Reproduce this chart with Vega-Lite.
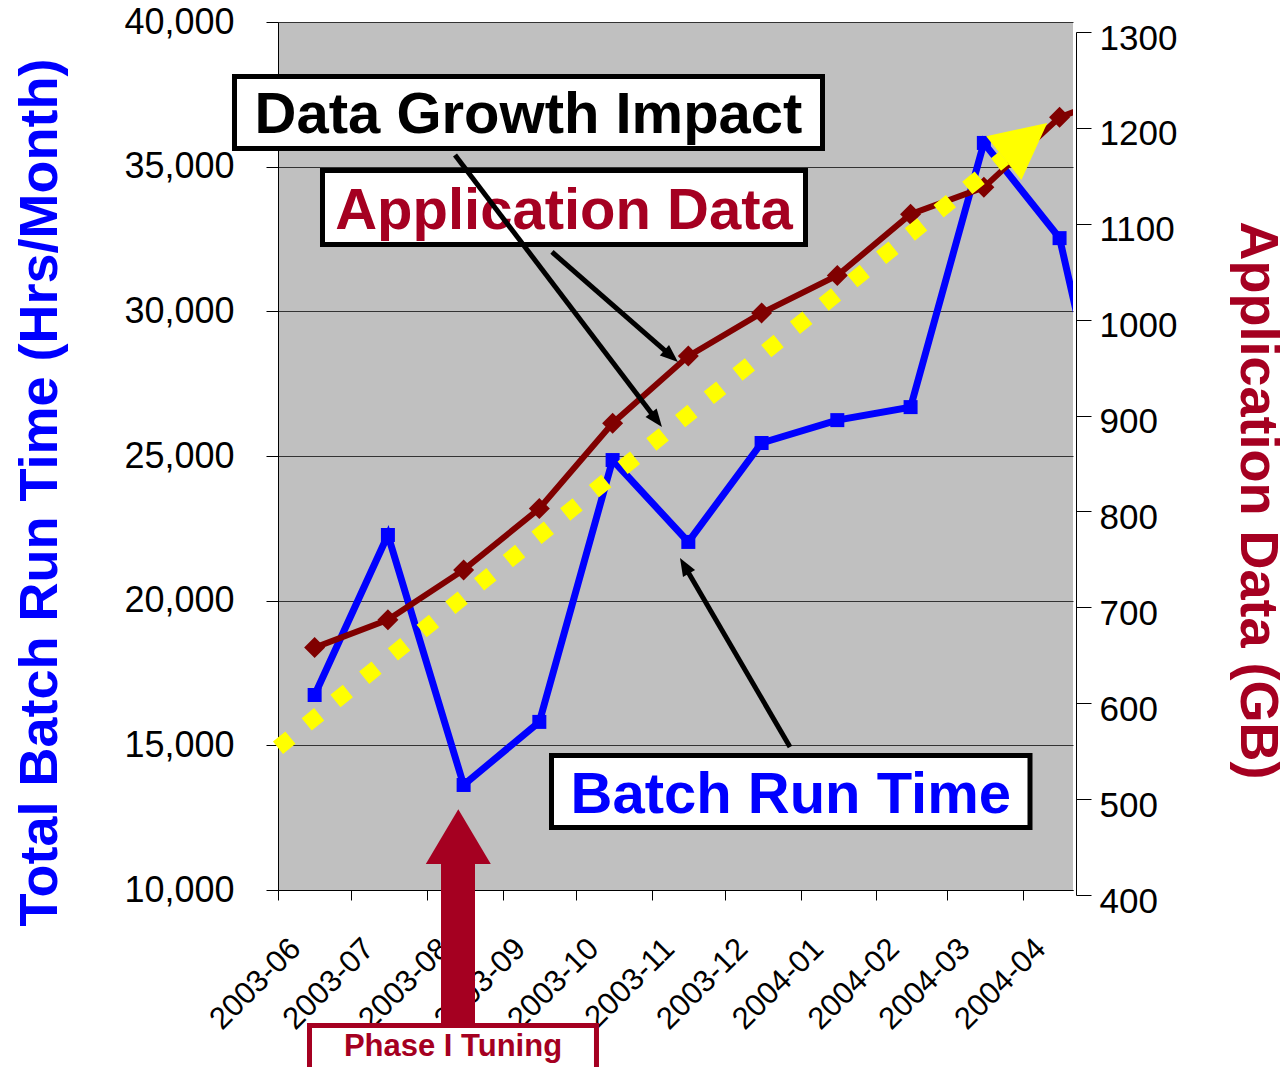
{
  "$schema": "https://vega.github.io/schema/vega-lite/v6.json",
  "width": 795,
  "height": 868,
  "autosize": {"type": "none"},
  "padding": {"left": 278, "top": 22, "right": 215, "bottom": 177},
  "background": "white",
  "config": {
    "view": {"fill": "#C0C0C0", "stroke": null},
    "font": "Liberation Sans",
    "axis": {"labelFont": "Liberation Sans", "titleFont": "Liberation Sans", "labelColor": "black", "domainColor": "black", "tickColor": "black", "domainWidth": 1, "tickWidth": 1}
  },
  "datasets": {
    "batch": [
      {"month": "2003-06-16", "hours": 16740},
      {"month": "2003-07-16", "hours": 22270},
      {"month": "2003-08-16", "hours": 13630},
      {"month": "2003-09-16", "hours": 15810},
      {"month": "2003-10-16", "hours": 24860},
      {"month": "2003-11-16", "hours": 22030},
      {"month": "2003-12-16", "hours": 25450},
      {"month": "2004-01-16", "hours": 26240},
      {"month": "2004-02-15", "hours": 26690},
      {"month": "2004-03-16", "hours": 35820},
      {"month": "2004-04-16", "hours": 32530},
      {"month": "2004-05-16", "hours": 21400}
    ],
    "appdata": [
      {"month": "2003-06-16", "gb": 658},
      {"month": "2003-07-16", "gb": 687},
      {"month": "2003-08-16", "gb": 739},
      {"month": "2003-09-16", "gb": 803},
      {"month": "2003-10-16", "gb": 892},
      {"month": "2003-11-16", "gb": 962},
      {"month": "2003-12-16", "gb": 1007},
      {"month": "2004-01-16", "gb": 1046},
      {"month": "2004-02-15", "gb": 1110},
      {"month": "2004-03-16", "gb": 1138},
      {"month": "2004-04-16", "gb": 1211},
      {"month": "2004-05-16", "gb": 1240}
    ],
    "trend": [
      {"t": "2003-06-01T00:00:00Z", "v": 14918},
      {"t": "2004-03-24T06:00:00Z", "v": 35299}
    ],
    "trendhead": [
      {"t": "2004-04-02T01:10:00Z", "v": 35904}
    ],
    "boxes": [
      {"box": "Data Growth Impact", "x1": "2003-05-14T04:30:00Z", "x2": "2004-01-09T22:30:00Z", "y1": 38116, "y2": 35628},
      {"box": "Application Data", "x1": "2003-06-19T05:15:00Z", "x2": "2004-01-02T23:30:00Z", "y1": 34867, "y2": 32310},
      {"box": "Batch Run Time", "x1": "2003-09-20T23:30:00Z", "x2": "2004-04-03T21:30:00Z", "y1": 14649, "y2": 12160}
    ],
    "pitbox": [
      {"box": "Phase I Tuning", "x1": "2003-06-13T21:30:00Z", "x2": "2003-10-09T09:30:00Z", "y1": 5317, "y2": 3433}
    ],
    "labels": [
      {"label": "Data Growth Impact", "t": "2003-09-11T13:30:00Z", "v": 36163},
      {"label": "Application Data", "t": "2003-09-26T02:20:00Z", "v": 32845},
      {"label": "Batch Run Time", "t": "2003-12-27T22:30:00Z", "v": 12661},
      {"label": "Phase I Tuning", "t": "2003-08-11T15:30:00Z", "v": 4263}
    ],
    "arrows": [
      {"id": "a1", "x1": "2003-08-12T11:15:00Z", "y1": 35403, "x2": "2003-11-02T05:30:00Z", "y2": 26331},
      {"id": "a2", "x1": "2003-09-21T04:20:00Z", "y1": 32051, "x2": "2003-11-08T02:10:00Z", "y2": 28522},
      {"id": "a3", "x1": "2003-12-27T15:05:00Z", "y1": 14942, "x2": "2003-11-15T01:10:00Z", "y2": 21115}
    ],
    "heads": [
      {"id": "a1", "t": "2003-11-05T05:15:00Z", "v": 26002},
      {"id": "a2", "t": "2003-11-11T18:30:00Z", "v": 28249},
      {"id": "a3", "t": "2003-11-12T14:10:00Z", "v": 21475}
    ],
    "phasearrow": [
      {"x1": "2003-08-06T17:45:00Z", "x2": "2003-08-20T15:50:00Z", "y1": 11037, "y2": 5334}
    ],
    "phasehead": [
      {"t": "2003-08-13T19:40:00Z", "v": 11844}
    ]
  },
  "layer": [
    {
      "data": {"name": "batch"},
      "mark": {"type": "line", "color": "#0000FF", "strokeWidth": 7, "clip": true},
      "encoding": {
        "x": {
          "field": "month", "type": "temporal",
          "scale": {"type": "utc", "domain": [{"year": 2003, "month": 6, "date": 1, "utc": true}, {"year": 2004, "month": 4, "date": 21, "hours": 12, "utc": true}]},
          "axis": {
            "orient": "bottom", "title": null,
            "values": [
              {"year": 2003, "month": 6, "date": 1, "utc": true},
              {"year": 2003, "month": 7, "date": 1, "utc": true},
              {"year": 2003, "month": 8, "date": 1, "utc": true},
              {"year": 2003, "month": 9, "date": 1, "utc": true},
              {"year": 2003, "month": 10, "date": 1, "utc": true},
              {"year": 2003, "month": 11, "date": 1, "utc": true},
              {"year": 2003, "month": 12, "date": 1, "utc": true},
              {"year": 2004, "month": 1, "date": 1, "utc": true},
              {"year": 2004, "month": 2, "date": 1, "utc": true},
              {"year": 2004, "month": 3, "date": 1, "utc": true},
              {"year": 2004, "month": 4, "date": 1, "utc": true}
            ],
            "format": "%Y-%m",
            "labelAngle": -45, "labelAlign": "right", "labelBaseline": "alphabetic",
            "labelFontSize": 31, "labelOffset": 24, "labelPadding": 50,
            "tickSize": 10, "grid": false,
            "labelOverlap": false, "labelFlush": false, "labelBound": false
          }
        },
        "y": {
          "field": "hours", "type": "quantitative",
          "scale": {"domain": [10000, 40000], "nice": false, "zero": false},
          "axis": {
            "orient": "left",
            "title": "Total Batch Run Time (Hrs/Month)",
            "values": [10000, 15000, 20000, 25000, 30000, 35000, 40000],
            "format": ",.0f",
            "grid": true, "gridColor": "#333333", "gridWidth": 1,
            "tickSize": 12, "labelFontSize": 36, "labelPadding": 32, "labelBaseline": "middle",
            "labelOverlap": false, "labelFlush": false,
            "titleFontSize": 54, "titleFontWeight": "bold", "titleColor": "#0000FF",
            "titleAngle": -90, "titleX": -222, "titleY": 470, "titleAlign": "center", "titleBaseline": "alphabetic"
          }
        }
      }
    },
    {
      "data": {"name": "batch"},
      "mark": {"type": "point", "shape": "square", "filled": true, "size": 196, "color": "#0000FF", "opacity": 1, "clip": true},
      "encoding": {
        "x": {"field": "month", "type": "temporal"},
        "y": {"field": "hours", "type": "quantitative", "scale": {"domain": [10000, 40000], "nice": false, "zero": false}, "axis": null}
      }
    },
    {
      "data": {"name": "appdata"},
      "mark": {"type": "line", "color": "#800000", "strokeWidth": 6, "clip": true},
      "encoding": {
        "x": {"field": "month", "type": "temporal"},
        "y": {
          "field": "gb", "type": "quantitative",
          "scale": {"domain": [400, 1300], "range": [873, 10], "nice": false, "zero": false},
          "axis": {
            "orient": "right",
            "title": "Application Data (GB)",
            "values": [400, 500, 600, 700, 800, 900, 1000, 1100, 1200, 1300],
            "format": "d",
            "grid": false, "offset": 3,
            "tickSize": 15, "labelFontSize": 35, "labelPadding": 8, "labelOffset": 6, "labelBaseline": "middle",
            "labelOverlap": false, "labelFlush": false,
            "titleFontSize": 54, "titleFontWeight": "bold", "titleColor": "#A50021",
            "titleAngle": 90, "titleX": 164, "titleY": 478, "titleAlign": "center", "titleBaseline": "alphabetic"
          }
        }
      }
    },
    {
      "data": {"name": "appdata"},
      "mark": {"type": "point", "shape": "diamond", "filled": true, "size": 441, "color": "#800000", "opacity": 1, "clip": true},
      "encoding": {
        "x": {"field": "month", "type": "temporal"},
        "y": {"field": "gb", "type": "quantitative", "scale": {"domain": [400, 1300], "range": [873, 10], "nice": false, "zero": false}, "axis": null}
      }
    },
    {
      "data": {"name": "trend"},
      "mark": {"type": "line", "color": "#FFFF00", "strokeWidth": 16, "strokeDash": [16, 21], "strokeCap": "butt"},
      "encoding": {
        "x": {"field": "t", "type": "temporal"},
        "y": {"field": "v", "type": "quantitative", "scale": {"domain": [10000, 40000], "nice": false, "zero": false}, "axis": null}
      }
    },
    {
      "data": {"name": "trendhead"},
      "mark": {"type": "point", "shape": "M0,-1L1,1L-1,1Z", "size": 3136, "angle": 51, "filled": true, "color": "#FFFF00", "opacity": 1, "strokeWidth": 0},
      "encoding": {
        "x": {"field": "t", "type": "temporal"},
        "y": {"field": "v", "type": "quantitative", "scale": {"domain": [10000, 40000], "nice": false, "zero": false}, "axis": null}
      }
    },
    {
      "data": {"name": "boxes"},
      "mark": {"type": "rect", "fill": "white", "stroke": "black", "strokeWidth": 5},
      "encoding": {
        "x": {"field": "x1", "type": "temporal"},
        "x2": {"field": "x2"},
        "y": {"field": "y1", "type": "quantitative", "scale": {"domain": [10000, 40000], "nice": false, "zero": false}, "axis": null},
        "y2": {"field": "y2"}
      }
    },
    {
      "data": {"name": "labels"},
      "transform": [{"filter": "datum.label == 'Data Growth Impact'"}],
      "mark": {"type": "text", "font": "Liberation Sans", "fontSize": 58, "fontWeight": "bold", "color": "black", "align": "center", "baseline": "alphabetic"},
      "encoding": {
        "x": {"field": "t", "type": "temporal"},
        "y": {"field": "v", "type": "quantitative", "scale": {"domain": [10000, 40000], "nice": false, "zero": false}, "axis": null},
        "text": {"field": "label"}
      }
    },
    {
      "data": {"name": "labels"},
      "transform": [{"filter": "datum.label == 'Application Data'"}],
      "mark": {"type": "text", "font": "Liberation Sans", "fontSize": 58, "fontWeight": "bold", "color": "#A50021", "align": "center", "baseline": "alphabetic"},
      "encoding": {
        "x": {"field": "t", "type": "temporal"},
        "y": {"field": "v", "type": "quantitative", "scale": {"domain": [10000, 40000], "nice": false, "zero": false}, "axis": null},
        "text": {"field": "label"}
      }
    },
    {
      "data": {"name": "labels"},
      "transform": [{"filter": "datum.label == 'Batch Run Time'"}],
      "mark": {"type": "text", "font": "Liberation Sans", "fontSize": 58, "fontWeight": "bold", "color": "#0000FF", "align": "center", "baseline": "alphabetic"},
      "encoding": {
        "x": {"field": "t", "type": "temporal"},
        "y": {"field": "v", "type": "quantitative", "scale": {"domain": [10000, 40000], "nice": false, "zero": false}, "axis": null},
        "text": {"field": "label"}
      }
    },
    {
      "data": {"name": "arrows"},
      "mark": {"type": "rule", "color": "black", "strokeWidth": 5},
      "encoding": {
        "x": {"field": "x1", "type": "temporal"},
        "x2": {"field": "x2"},
        "y": {"field": "y1", "type": "quantitative", "scale": {"domain": [10000, 40000], "nice": false, "zero": false}, "axis": null},
        "y2": {"field": "y2"}
      }
    },
    {
      "data": {"name": "heads"},
      "transform": [{"filter": "datum.id == 'a1'"}],
      "mark": {"type": "point", "shape": "M0,0L1.4,3.6L-1.4,3.6Z", "size": 100, "angle": 142.7, "filled": true, "color": "black", "opacity": 1, "strokeWidth": 0},
      "encoding": {
        "x": {"field": "t", "type": "temporal"},
        "y": {"field": "v", "type": "quantitative", "scale": {"domain": [10000, 40000], "nice": false, "zero": false}, "axis": null}
      }
    },
    {
      "data": {"name": "heads"},
      "transform": [{"filter": "datum.id == 'a2'"}],
      "mark": {"type": "point", "shape": "M0,0L1.4,3.6L-1.4,3.6Z", "size": 100, "angle": 131.1, "filled": true, "color": "black", "opacity": 1, "strokeWidth": 0},
      "encoding": {
        "x": {"field": "t", "type": "temporal"},
        "y": {"field": "v", "type": "quantitative", "scale": {"domain": [10000, 40000], "nice": false, "zero": false}, "axis": null}
      }
    },
    {
      "data": {"name": "heads"},
      "transform": [{"filter": "datum.id == 'a3'"}],
      "mark": {"type": "point", "shape": "M0,0L1.4,3.6L-1.4,3.6Z", "size": 100, "angle": 329.8, "filled": true, "color": "black", "opacity": 1, "strokeWidth": 0},
      "encoding": {
        "x": {"field": "t", "type": "temporal"},
        "y": {"field": "v", "type": "quantitative", "scale": {"domain": [10000, 40000], "nice": false, "zero": false}, "axis": null}
      }
    },
    {
      "data": {"name": "phasearrow"},
      "mark": {"type": "rect", "fill": "#A50021", "strokeWidth": 0},
      "encoding": {
        "x": {"field": "x1", "type": "temporal"},
        "x2": {"field": "x2"},
        "y": {"field": "y1", "type": "quantitative", "scale": {"domain": [10000, 40000], "nice": false, "zero": false}, "axis": null},
        "y2": {"field": "y2"}
      }
    },
    {
      "data": {"name": "phasehead"},
      "mark": {"type": "point", "shape": "M0,-0.842L1,0.842L-1,0.842Z", "size": 4225, "filled": true, "color": "#A50021", "opacity": 1, "strokeWidth": 0},
      "encoding": {
        "x": {"field": "t", "type": "temporal"},
        "y": {"field": "v", "type": "quantitative", "scale": {"domain": [10000, 40000], "nice": false, "zero": false}, "axis": null}
      }
    },
    {
      "data": {"name": "pitbox"},
      "mark": {"type": "rect", "fill": "white", "stroke": "#A50021", "strokeWidth": 5},
      "encoding": {
        "x": {"field": "x1", "type": "temporal"},
        "x2": {"field": "x2"},
        "y": {"field": "y1", "type": "quantitative", "scale": {"domain": [10000, 40000], "nice": false, "zero": false}, "axis": null},
        "y2": {"field": "y2"}
      }
    },
    {
      "data": {"name": "labels"},
      "transform": [{"filter": "datum.label == 'Phase I Tuning'"}],
      "mark": {"type": "text", "font": "Liberation Sans", "fontSize": 31, "fontWeight": "bold", "color": "#A50021", "align": "center", "baseline": "alphabetic"},
      "encoding": {
        "x": {"field": "t", "type": "temporal"},
        "y": {"field": "v", "type": "quantitative", "scale": {"domain": [10000, 40000], "nice": false, "zero": false}, "axis": null},
        "text": {"field": "label"}
      }
    }
  ],
  "resolve": {"scale": {"y": "independent"}, "axis": {"y": "independent"}}
}
